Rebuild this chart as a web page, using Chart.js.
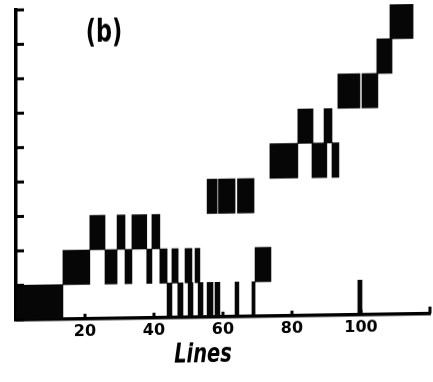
<!DOCTYPE html>
<html>
<head>
<meta charset="utf-8">
<script src="https://cdn.jsdelivr.net/npm/chart.js@4.4.1/dist/chart.umd.min.js"></script>
<style>
  html, body { margin: 0; padding: 0; background: #fff; overflow: hidden; }
  /* the scanned figure leans up to the right a little */
  #chart { display: block; transform: skewY(-0.86deg); transform-origin: 16px 322px; }
</style>
</head>
<body>
<canvas id="chart" width="433" height="382"></canvas>
<script>
// one entry per black block: row (level), first line, last line
const segLevel = [0, 1, 2, 1, 2, 1, 2, 1, 2, 1, 0, 1, 0, 1, 0, 1, 0, 0, 3, 0, 3, 0, 3, 0, 1, 4, 5, 4, 5, 4, 6, 0, 6, 7, 8];
const segStart = [0, 13.6, 21.4, 25.8, 29.3, 31.6, 33.6, 37.9, 39.4, 41.7, 43.8, 45.2, 46.9, 49.0, 49.9, 51.9, 52.8, 55.4, 55.4, 57.7, 58.7, 63.5, 64.2, 68.4, 69.3, 73.6, 81.7, 85.8, 89.3, 91.6, 93.3, 99.1, 100.3, 104.6, 108.4];
const segEnd = [13.6, 21.4, 25.8, 29.3, 31.6, 33.6, 37.9, 39.4, 41.7, 43.8, 45.2, 47.0, 48.4, 51.0, 51.3, 53.3, 54.2, 57.1, 58.3, 59.1, 63.5, 64.6, 69.0, 69.3, 73.9, 81.7, 86.1, 90.1, 91.6, 93.6, 99.7, 100.3, 104.9, 109.0, 115.1];

const xTicks = [20, 40, 60, 80, 100, 120];
const xTickLabels = ["20", "40", "60", "80", "100", ""];
const yLevels = [0, 1, 2, 3, 4, 5, 6, 7, 8, 9];
const panelLabel = "(b)";
const xTitle = "Lines";

const blocks = segStart.map((s, i) => ({ x: [s, segEnd[i]], y: segLevel[i] + 0.5 }));

// ink tick marks point into the plot, and the lettering is narrow hand lettering
const handDrawn = {
  id: "handDrawn",
  afterDraw(chart) {
    const ctx = chart.ctx;
    const x = chart.scales.x;
    const y = chart.scales.y;
    ctx.save();
    ctx.strokeStyle = "#000";
    ctx.lineWidth = 3;
    yLevels.forEach(v => {
      const py = y.getPixelForValue(v);
      ctx.beginPath();
      ctx.moveTo(x.left, py);
      ctx.lineTo(x.left + 8, py);
      ctx.stroke();
    });
    xTicks.forEach(v => {
      const px = x.getPixelForValue(v);
      ctx.beginPath();
      ctx.moveTo(px, y.bottom);
      ctx.lineTo(px, y.bottom - (v === 120 ? 7 : 5));
      ctx.stroke();
    });

    ctx.fillStyle = "#000";
    ctx.textAlign = "center";
    ctx.textBaseline = "alphabetic";

    ctx.save();
    ctx.translate(x.getPixelForValue(25.5), y.getPixelForValue(8.05));
    ctx.scale(0.7, 1);
    ctx.font = "bold 32px 'DejaVu Sans', sans-serif";
    ctx.fillText(panelLabel, 0, 0);
    ctx.restore();

    ctx.save();
    ctx.translate(x.getPixelForValue(54.2), y.bottom + 45);
    ctx.scale(0.72, 1);
    ctx.font = "bold italic 27px 'DejaVu Sans', sans-serif";
    ctx.fillText(xTitle, 0, 0);
    ctx.restore();

    ctx.restore();
  }
};

new Chart(document.getElementById("chart"), {
  type: "bar",
  data: {
    datasets: [{
      data: blocks,
      backgroundColor: "#060606",
      borderWidth: 0,
      barPercentage: 1,
      categoryPercentage: 1
    }]
  },
  options: {
    indexAxis: "y",
    responsive: false,
    devicePixelRatio: 1,
    animation: false,
    layout: { padding: { left: 16, right: 3, top: 10, bottom: 37 } },
    plugins: { legend: { display: false }, tooltip: { enabled: false } },
    scales: {
      x: {
        type: "linear",
        min: 0,
        max: 120,
        position: "bottom",
        grid: { drawOnChartArea: false, drawTicks: false },
        border: { color: "#000", width: 3.5 },
        ticks: {
          stepSize: 20,
          padding: 3,
          color: "#000",
          font: { family: "'DejaVu Sans', sans-serif", size: 16, weight: "bold" },
          callback: v => {
            const i = xTicks.indexOf(v);
            return i < 0 ? "" : xTickLabels[i];
          }
        }
      },
      y: {
        type: "linear",
        min: 0,
        max: 9,
        offset: false,
        grid: { drawOnChartArea: false, drawTicks: false, offset: false },
        border: { color: "#000", width: 3.5 },
        ticks: { display: false, stepSize: 1 }
      }
    }
  },
  plugins: [handDrawn]
});
</script>
</body>
</html>
